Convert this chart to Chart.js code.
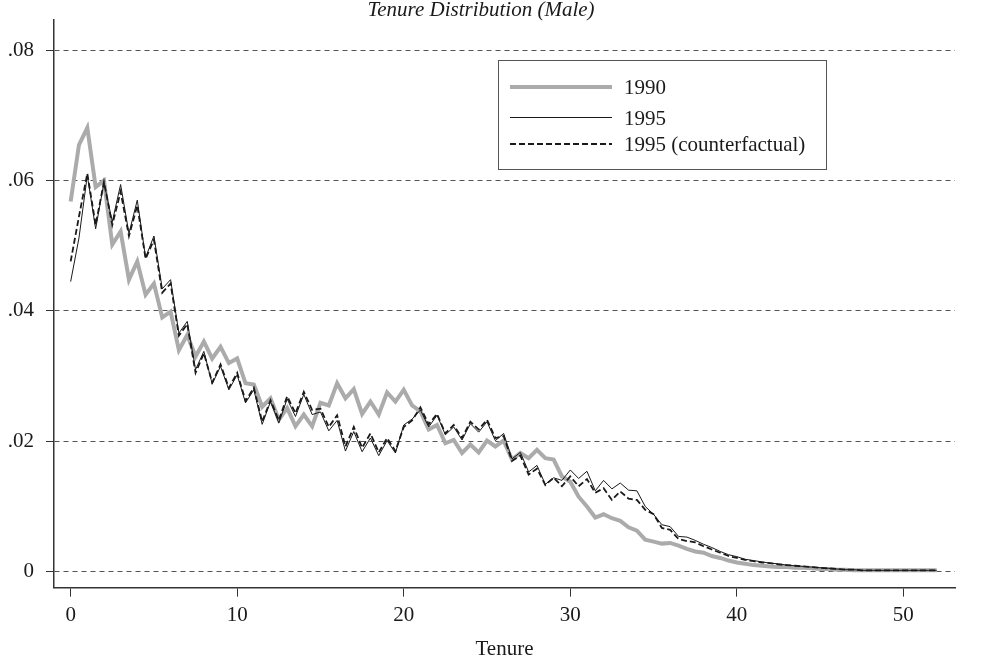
<!DOCTYPE html>
<html>
<head>
<meta charset="utf-8">
<script src="https://cdn.jsdelivr.net/npm/chart.js@4.4.0/dist/chart.umd.min.js"></script>
<style>
  body { margin: 0; background: #fff; }
  #wrap { width: 983px; height: 663px; }
</style>
</head>
<body>
<div id="wrap"><canvas id="myChart" width="983" height="663"></canvas></div>
<script>
// tenure (years), half-year steps
var tenure = [
  0, 0.5, 1, 1.5, 2, 2.5, 3, 3.5, 4, 4.5,
  5, 5.5, 6, 6.5, 7, 7.5, 8, 8.5, 9, 9.5,
  10, 10.5, 11, 11.5, 12, 12.5, 13, 13.5, 14, 14.5,
  15, 15.5, 16, 16.5, 17, 17.5, 18, 18.5, 19, 19.5,
  20, 20.5, 21, 21.5, 22, 22.5, 23, 23.5, 24, 24.5,
  25, 25.5, 26, 26.5, 27, 27.5, 28, 28.5, 29, 29.5,
  30, 30.5, 31, 31.5, 32, 32.5, 33, 33.5, 34, 34.5,
  35, 35.5, 36, 36.5, 37, 37.5, 38, 38.5, 39, 39.5,
  40, 40.5, 41, 41.5, 42, 42.5, 43, 43.5, 44, 44.5,
  45, 45.5, 46, 46.5, 47, 47.5, 48, 48.5, 49, 49.5,
  50, 50.5, 51, 51.5, 52
];

var share1990 = [
  .0568, .0655, .0681, .0590, .0600, .0502, .0522, .0448, .0476, .0425,
  .0442, .0390, .0399, .0340, .0363, .0330, .0353, .0327, .0345, .0320,
  .0327, .0289, .0287, .0253, .0266, .0233, .0251, .0223, .0241, .0223,
  .0259, .0255, .0289, .0266, .0280, .0242, .0261, .0241, .0275, .0261,
  .0279, .0255, .0246, .0218, .0225, .0197, .0202, .0182, .0195, .0183,
  .0201, .0192, .0201, .0172, .0182, .0174, .0187, .0174, .0172, .0146,
  .0138, .0115, .0100, .0083, .0088, .0082, .0078, .0068, .0063, .0049,
  .0046, .0043, .0044, .0040, .0035, .0031, .0029, .0024, .0021, .0017,
  .0014, .0012, .0010, .0009, .0008, .0007, .0007, .0006, .0006, .0005,
  .0004, .0004, .0003, .0003, .0002, .0002, .0002, .0002, .0002, .0002,
  .0002, .0002, .0002, .0002, .0002
];

var share1995 = [
  .0445, .0512, .0608, .0526, .0597, .0537, .0594, .0519, .0570, .0482,
  .0515, .0434, .0448, .0366, .0384, .0310, .0338, .0288, .0315, .0279,
  .0302, .0259, .0279, .0226, .0261, .0228, .0265, .0238, .0272, .0241,
  .0245, .0216, .0232, .0185, .0215, .0184, .0205, .0178, .0201, .0182,
  .0225, .0234, .0248, .0222, .0240, .0210, .0222, .0202, .0227, .0214,
  .0230, .0201, .0212, .0173, .0183, .0153, .0163, .0134, .0144, .0140,
  .0156, .0143, .0154, .0124, .0140, .0127, .0136, .0125, .0124, .0100,
  .0088, .0072, .0069, .0054, .0053, .0048, .0042, .0037, .0031, .0026,
  .0023, .0019, .0017, .0015, .0013, .0012, .0010, .0009, .0008, .0007,
  .0006, .0005, .0004, .0003, .0003, .0002, .0002, .0002, .0002, .0002,
  .0002, .0002, .0002, .0002, .0002
];

var share1995cf = [
  .0476, .0545, .0611, .0532, .0598, .0532, .0583, .0515, .0562, .0480,
  .0509, .0428, .0442, .0362, .0380, .0305, .0335, .0290, .0318, .0282,
  .0305, .0262, .0282, .0230, .0263, .0232, .0269, .0243, .0276, .0248,
  .0250, .0222, .0240, .0192, .0222, .0190, .0212, .0183, .0205, .0185,
  .0222, .0232, .0252, .0226, .0242, .0212, .0225, .0205, .0230, .0218,
  .0233, .0205, .0208, .0170, .0178, .0149, .0158, .0133, .0144, .0131,
  .0146, .0131, .0142, .0121, .0128, .0110, .0123, .0112, .0110, .0095,
  .0088, .0067, .0064, .0050, .0047, .0045, .0039, .0034, .0029, .0024,
  .0021, .0018, .0016, .0014, .0013, .0011, .0010, .0009, .0008, .0007,
  .0006, .0005, .0004, .0003, .0003, .0002, .0002, .0002, .0002, .0002,
  .0002, .0002, .0002, .0002, .0002
];

var seriesLabels = ['1990', '1995', '1995 (counterfactual)'];
var xTicks = [0, 10, 20, 30, 40, 50];
var xTickLabels = ['0', '10', '20', '30', '40', '50'];
var yTicks = [0, 0.02, 0.04, 0.06, 0.08];
var yTickLabels = ['0', '.02', '.04', '.06', '.08'];

var serif = "'Liberation Serif', 'Times New Roman', serif";

function pts(values) {
  var out = [];
  for (var i = 0; i < tenure.length; i++) {
    out.push({ x: tenure[i], y: values[i] });
  }
  return out;
}

// legend drawn as a framed box inside the plot, like the original
var boxLegend = {
  id: 'boxLegend',
  afterDraw: function(chart, args, opts) {
    var ctx = chart.ctx;
    ctx.save();
    ctx.strokeStyle = '#555';
    ctx.lineWidth = 1;
    ctx.strokeRect(opts.left + 0.5, opts.top + 0.5, opts.width, opts.height);
    ctx.font = '21px ' + serif;
    ctx.textBaseline = 'middle';
    ctx.fillStyle = '#1a1a1a';
    var ds = chart.data.datasets;
    for (var i = 0; i < ds.length; i++) {
      var y = opts.rows[i];
      ctx.save();
      ctx.strokeStyle = ds[i].borderColor;
      ctx.lineWidth = ds[i].borderWidth;
      ctx.setLineDash(ds[i].borderDash || []);
      ctx.beginPath();
      ctx.moveTo(opts.lineX1, y);
      ctx.lineTo(opts.lineX2, y);
      ctx.stroke();
      ctx.restore();
      ctx.fillText(ds[i].label, opts.textX, Math.round(y) + 1);
    }
    ctx.restore();
  }
};

var ctx = document.getElementById('myChart');

new Chart(ctx, {
  type: 'line',
  data: {
    datasets: [
      {
        label: seriesLabels[0],
        data: pts(share1990),
        borderColor: '#ababab',
        borderWidth: 4,
        order: 3
      },
      {
        label: seriesLabels[1],
        data: pts(share1995),
        borderColor: '#1a1a1a',
        borderWidth: 1,
        order: 2
      },
      {
        label: seriesLabels[2],
        data: pts(share1995cf),
        borderColor: '#1a1a1a',
        borderWidth: 1.8,
        borderDash: [6, 3],
        order: 1
      }
    ]
  },
  options: {
    responsive: false,
    animation: false,
    devicePixelRatio: 1,
    layout: { padding: { left: 7, right: 28, top: 2, bottom: 0 } },
    elements: {
      point: { radius: 0 },
      line: { tension: 0, fill: false, borderJoinStyle: 'miter' }
    },
    plugins: {
      legend: { display: false },
      tooltip: { enabled: false },
      title: {
        display: true,
        text: 'Tenure Distribution (Male)',
        color: '#1a1a1a',
        font: { family: serif, size: 21, style: 'italic', weight: 'normal', lineHeight: 0.84 },
        padding: 0
      },
      boxLegend: {
        left: 498, top: 60, width: 328, height: 109,
        rows: [87, 117.5, 144],
        lineX1: 510, lineX2: 612, textX: 624
      }
    },
    scales: {
      x: {
        type: 'linear',
        min: -1,
        max: 53.1,
        afterBuildTicks: function(axis) {
          axis.ticks = xTicks.map(function(v) { return { value: v }; });
        },
        ticks: {
          font: { family: serif, size: 21 },
          color: '#1a1a1a',
          padding: 6,
          maxRotation: 0,
          callback: function(value, index) { return xTickLabels[index]; }
        },
        grid: {
          drawOnChartArea: false,
          drawTicks: true,
          tickLength: 9,
          tickColor: '#333',
          tickWidth: 1
        },
        border: { display: true, color: '#333', width: 1.5 },
        title: {
          display: true,
          text: 'Tenure',
          color: '#1a1a1a',
          font: { family: serif, size: 21 },
          padding: { top: 3, bottom: 1 }
        }
      },
      y: {
        type: 'linear',
        min: -0.00245,
        max: 0.0847,
        afterBuildTicks: function(axis) {
          axis.ticks = yTicks.map(function(v) { return { value: v }; });
        },
        afterFit: function(axis) {
          axis.paddingTop = 0;
          axis.width = 47;
        },
        ticks: {
          font: { family: serif, size: 21 },
          color: '#1a1a1a',
          padding: 12,
          callback: function(value, index) { return yTickLabels[index]; }
        },
        grid: {
          drawOnChartArea: true,
          drawTicks: true,
          tickLength: 8,
          color: '#555',
          lineWidth: 1,
          tickColor: '#333',
          tickWidth: 1
        },
        border: { display: true, color: '#333', width: 1.5, dash: [5, 4] }
      }
    }
  },
  plugins: [boxLegend]
});
</script>
</body>
</html>
